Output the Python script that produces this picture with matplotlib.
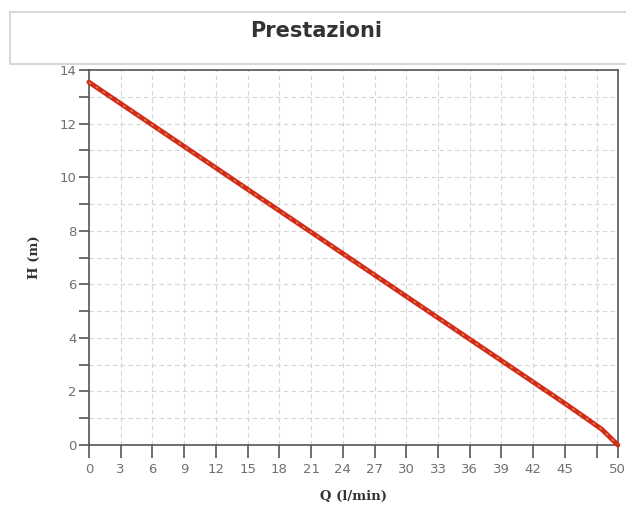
import matplotlib.pyplot as plt
from matplotlib.patches import Rectangle

# curva prestazioni
portata = [0, 3, 6, 9, 12, 15, 18, 21, 24, 27, 30, 33, 36, 39, 42, 45, 47, 48.5, 50]
prevalenza = [13.55, 12.75, 11.95, 11.15, 10.35, 9.55, 8.75, 7.95, 7.15, 6.35,
              5.55, 4.75, 3.95, 3.15, 2.35, 1.55, 1.0, 0.58, 0.0]

x_ticks = [0, 3, 6, 9, 12, 15, 18, 21, 24, 27, 30, 33, 36, 39, 42, 45, 48, 50]
x_labels = ['0', '3', '6', '9', '12', '15', '18', '21', '24', '27', '30',
            '33', '36', '39', '42', '45', '', '50']
y_major = [0, 2, 4, 6, 8, 10, 12, 14]
y_minor = [1, 3, 5, 7, 9, 11, 13]

fig = plt.figure(figsize=(6.26, 5.08), dpi=100)
ax = fig.add_axes([0.142, 0.124, 0.845, 0.738])

ax.set_xlim(0, 50)
ax.set_ylim(0, 14)

# griglia tratteggiata
ax.set_xticks(x_ticks)
ax.set_xticklabels(x_labels)
ax.set_yticks(y_major)
ax.set_yticks(y_minor, minor=True)
ax.grid(True, which='both', linestyle=(0, (4, 3)), color='#d4d4d4', linewidth=0.8)
ax.set_axisbelow(True)

ax.tick_params(axis='x', which='major', direction='out', length=9, width=1.2,
               color='#555555', labelcolor='#707070', labelsize=9.5, pad=4)
ax.tick_params(axis='y', which='both', direction='out', length=7, width=1.2,
               color='#555555', labelcolor='#707070', labelsize=9.5, pad=2)

for s in ax.spines.values():
    s.set_color('#555555')
    s.set_linewidth(1.2)

# curva
ax.plot(portata, prevalenza, color='#d42a1c', linewidth=3.5, solid_capstyle='round',
        clip_on=False, zorder=3)
ax.plot(portata, prevalenza, color='#c9b048', linewidth=1.0, linestyle=(0, (2, 4)),
        alpha=0.8, clip_on=False, zorder=4)

ax.set_xlabel('Q (l/min)', family='DejaVu Serif', fontweight='bold', fontsize=9.5,
              color='#333333', labelpad=10)
ax.set_ylabel('H (m)', family='DejaVu Serif', fontweight='bold', fontsize=9.5,
              color='#333333', labelpad=13)

# riquadro del titolo
box = Rectangle((10 / 626, 1 - 64 / 508), 0.99, 52 / 508, transform=fig.transFigure,
                facecolor='white', edgecolor='#d0d0d0', linewidth=1.2, zorder=5)
fig.patches.append(box)
fig.text(316 / 626, 1 - 31 / 508, 'Prestazioni', ha='center', va='center',
         fontsize=15, fontweight='bold', color='#333333', zorder=6)

fig.savefig('out.png', dpi=100)
